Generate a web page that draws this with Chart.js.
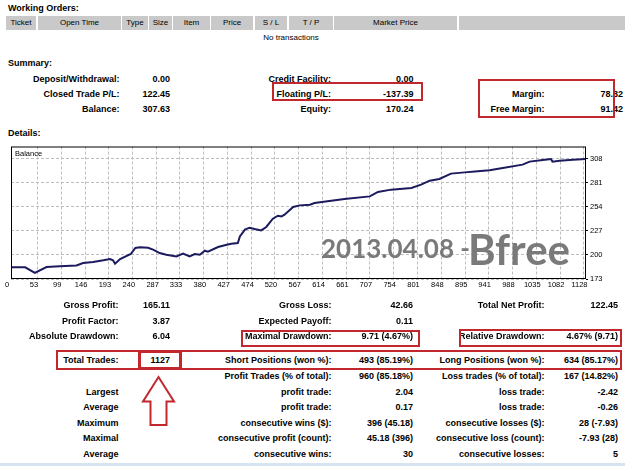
<!DOCTYPE html>
<html>
<head>
<meta charset="utf-8">
<script src="https://cdn.jsdelivr.net/npm/chart.js@4.4.0/dist/chart.umd.min.js"></script>
<style>
  html, body { margin: 0; padding: 0; background: #fff; }
  #page { position: relative; width: 625px; height: 466px; overflow: hidden;
          font-family: 'Liberation Sans', Arial, sans-serif; color: #000; }
  .t { position: absolute; height: 12px; line-height: 12px; white-space: nowrap;
       font-size: 9px; font-weight: bold; }
  .n { font-weight: normal; font-size: 8px; }
  .cell { position: absolute; top: 16px; height: 14px; line-height: 14px; background: #c9c9c9;
          font-size: 8px; text-align: center; }
  .box { position: absolute; border: 2px solid #c1272d; box-sizing: border-box; }
  #chartWrap { position: absolute; left: 0; top: 140px; width: 625px; height: 160px; }
  #strip { position: absolute; left: 0; top: 463px; width: 625px; height: 3px; background: #d6e3f0; }
</style>
</head>
<body>
<div id="page">
  <div id="chartWrap"><canvas id="balanceChart" width="625" height="160"></canvas></div>
  <div id="strip"></div>
</div>
<script>
// balance curve (trade number -> balance)
const tradeNo = [0, 28, 47, 70, 96, 129, 142, 162, 182, 195, 201, 205, 215, 236, 245,
  254, 270, 280, 293, 306, 326, 339, 352, 362, 372, 382, 388, 408, 425, 434,
  447, 451, 461, 470, 480, 493, 503, 516, 526, 533, 539, 556, 569, 589, 598,
  657, 707, 723, 749, 789, 808, 825, 844, 867, 894, 914, 943, 969, 1008, 1022,
  1048, 1064, 1067, 1081, 1107, 1133];
const balance = [186.1, 186.1, 179.8, 186.5, 187.2, 188.3, 191.0, 192.1, 194.0, 195.5, 194.0, 190.2, 195.5, 201.1, 207.9,
  208.6, 208.2, 206.0, 202.2, 200.3, 198.4, 201.5, 198.4, 201.1, 200.3, 204.8, 203.7, 209.0, 211.6, 212.7,
  213.5, 220.9, 228.5, 230.7, 229.2, 227.7, 231.5, 240.8, 244.2, 243.4, 245.3, 254.0, 255.8, 256.6, 258.5,
  263.0, 265.9, 270.9, 273.5, 275.4, 279.1, 283.6, 285.5, 291.5, 292.9, 294.0, 295.2, 297.9, 301.6, 305.0,
  306.9, 308.0, 305.0, 306.1, 307.2, 308.0];
const xTicks = [0, 53, 99, 146, 193, 240, 287, 333, 380, 427, 474, 520, 567, 614, 661, 707,
  754, 801, 848, 895, 941, 988, 1035, 1082, 1128];
const yTicks = [173, 200, 227, 254, 281, 308];

// report tables
const headerCells = [[6, 36, 'Ticket'], [38, 121, 'Open Time'], [122, 148, 'Type'], [149, 172, 'Size'],
  [173, 210, 'Item'], [211, 253, 'Price'], [255, 287, 'S / L'], [289, 333, 'T / P'],
  [334, 457, 'Market Price'], [459, 625, '']];
const summaryRows = [
  ['Deposit/Withdrawal:', '0.00', 'Credit Facility:', '0.00', '', ''],
  ['Closed Trade P/L:', '122.45', 'Floating P/L:', '-137.39', 'Margin:', '78.82'],
  ['Balance:', '307.63', 'Equity:', '170.24', 'Free Margin:', '91.42']
];
const summaryY = [79, 94, 109];
const statRows = [
  ['Gross Profit:', '165.11', 'Gross Loss:', '42.66', 'Total Net Profit:', '122.45'],
  ['Profit Factor:', '3.87', 'Expected Payoff:', '0.11', '', ''],
  ['Absolute Drawdown:', '6.04', 'Maximal Drawdown:', '9.71 (4.67%)', 'Relative Drawdown:', '4.67% (9.71)'],
  ['Total Trades:', '1127', 'Short Positions (won %):', '493 (85.19%)', 'Long Positions (won %):', '634 (85.17%)'],
  ['', '', 'Profit Trades (% of total):', '960 (85.18%)', 'Loss trades (% of total):', '167 (14.82%)'],
  ['Largest', '', 'profit trade:', '2.04', 'loss trade:', '-2.42'],
  ['Average', '', 'profit trade:', '0.17', 'loss trade:', '-0.26'],
  ['Maximum', '', 'consecutive wins ($):', '396 (45.18)', 'consecutive losses ($):', '28 (-7.93)'],
  ['Maximal', '', 'consecutive profit (count):', '45.18 (396)', 'consecutive loss (count):', '-7.93 (28)'],
  ['Average', '', 'consecutive wins:', '30', 'consecutive losses:', '5']
];
const statY = [305, 320.5, 336, 360, 375.5, 391.5, 407, 422.5, 438, 454];

const page = document.getElementById('page');

function put(text, x, cy, align, cls) {
  const d = document.createElement('div');
  d.className = 't' + (cls ? ' ' + cls : '');
  d.textContent = text;
  d.style.top = (cy - 6) + 'px';
  if (align === 'right') {
    d.style.right = (625 - x) + 'px';
  } else if (align === 'center') {
    d.style.left = (x - 100) + 'px';
    d.style.width = '200px';
    d.style.textAlign = 'center';
  } else {
    d.style.left = x + 'px';
  }
  page.appendChild(d);
}

function box(l, t, r, b, w) {
  const d = document.createElement('div');
  d.className = 'box';
  d.style.left = l + 'px';
  d.style.top = t + 'px';
  d.style.width = (r - l) + 'px';
  d.style.height = (b - t) + 'px';
  if (w) d.style.borderWidth = w + 'px';
  page.appendChild(d);
}

// Working orders
put('Working Orders:', 8, 7.5);
headerCells.forEach(c => {
  const d = document.createElement('div');
  d.className = 'cell';
  d.style.left = c[0] + 'px';
  d.style.width = (c[1] - c[0]) + 'px';
  d.textContent = c[2];
  page.appendChild(d);
});
put('No transactions', 291, 38, 'center', 'n');

// Summary
put('Summary:', 8, 62.5);
summaryRows.forEach((r, i) => {
  const y = summaryY[i];
  put(r[0], 119.5, y, 'right');
  put(r[1], 170, y, 'right');
  put(r[2], 331, y, 'right');
  put(r[3], 413.5, y, 'right');
  if (r[4]) {
    put(r[4], 544.5, y, 'right');
    put(r[5], 623, y, 'right');
  }
});

put('Details:', 8, 132.5);

// Statistics
statRows.forEach((r, i) => {
  const y = statY[i];
  if (r[0]) put(r[0], 118.5, y, 'right');
  if (r[1]) put(r[1], 170, y, 'right');
  if (r[2]) put(r[2], 331.5, y, 'right');
  if (r[3]) put(r[3], 413, y, 'right');
  if (r[4]) put(r[4], 544.5, y, 'right');
  if (r[5]) put(r[5], 618, y, 'right');
});

// red highlight boxes
box(272, 82, 423, 101);
box(478, 79, 615, 118);
box(241, 330, 420, 347);
box(459, 329, 622, 347);
box(56, 350, 622, 370);
box(138, 350, 182, 370, 3);

// arrow
const svgNS = 'http://www.w3.org/2000/svg';
const svg = document.createElementNS(svgNS, 'svg');
svg.setAttribute('width', '625');
svg.setAttribute('height', '466');
svg.style.position = 'absolute';
svg.style.left = '0';
svg.style.top = '0';
svg.style.pointerEvents = 'none';
const arrow = document.createElementNS(svgNS, 'polygon');
arrow.setAttribute('points', '158.5,377 174,401.5 166.5,401.5 166.5,425 150.5,425 150.5,401.5 143,401.5');
arrow.setAttribute('fill', '#fff');
arrow.setAttribute('stroke', '#c1272d');
arrow.setAttribute('stroke-width', '2');
svg.appendChild(arrow);
page.appendChild(svg);

// frame, title and stamp on the graph
const framePlugin = {
  id: 'frame',
  afterDraw(chart) {
    const { ctx, chartArea: a } = chart;
    ctx.save();
    ctx.strokeStyle = '#000';
    ctx.lineWidth = 1;
    ctx.strokeRect(a.left + 0.5, a.top + 0.5, a.right - a.left - 1, a.bottom - a.top - 1);
    ctx.fillStyle = '#000';
    ctx.font = '7.5px "Liberation Sans"';
    ctx.textBaseline = 'alphabetic';
    ctx.fillText('Balance', a.left + 4, a.top + 9.5);
    ctx.fillStyle = '#7a7a7a';
    ctx.font = 'bold 26px Lato';
    ctx.fillText('2013.04.08 -', 321, 118);
    ctx.font = 'bold 42px Lato';
    ctx.fillText('Bfree', 468, 125);
    ctx.restore();
  }
};

const tickFont = { family: 'Liberation Sans', size: 7.5 };

new Chart(document.getElementById('balanceChart').getContext('2d'), {
  type: 'line',
  data: {
    datasets: [{
      label: 'Balance',
      data: tradeNo.map((t, i) => ({ x: t, y: balance[i] })),
      borderColor: '#1b1b5e',
      borderWidth: 2,
      pointRadius: 0,
      tension: 0,
      fill: false
    }]
  },
  options: {
    animation: false,
    responsive: false,
    layout: { padding: { left: 11, right: 3, top: 6, bottom: 6 } },
    plugins: { legend: { display: false }, tooltip: { enabled: false } },
    scales: {
      x: {
        type: 'linear',
        min: 0,
        max: 1133,
        afterBuildTicks: s => { s.ticks = xTicks.map(v => ({ value: v })); },
        afterFit: s => { s.height = 15; },
        ticks: { font: tickFont, color: '#000', padding: 1, maxRotation: 0, autoSkip: false,
                 labelOffset: -4, callback: v => String(v) },
        grid: { color: '#bdbdbd', drawTicks: false },
        border: { display: false, dash: [3, 2] }
      },
      y: {
        position: 'right',
        min: 173,
        max: 322,
        afterBuildTicks: s => { s.ticks = yTicks.map(v => ({ value: v })); },
        afterFit: s => { s.width = 36; },
        ticks: { font: tickFont, color: '#000', padding: 2, callback: v => String(v) },
        grid: { color: '#bdbdbd', tickColor: '#000', tickLength: 2 },
        border: { display: false, dash: [3, 2] }
      }
    }
  },
  plugins: [framePlugin]
});
</script>
</body>
</html>
